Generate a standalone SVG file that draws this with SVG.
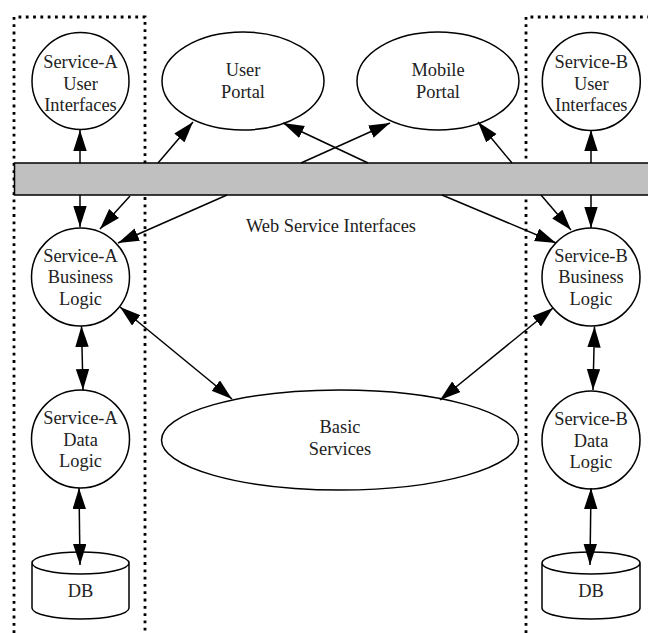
<svg xmlns="http://www.w3.org/2000/svg" width="648" height="633" viewBox="0 0 648 633">
<style>
.n{fill:#fff;stroke:#000;stroke-width:1.5}
.t{font-family:"Liberation Serif","Times New Roman",serif;font-size:18.4px;fill:#222;text-anchor:middle}
.c{stroke:#000;stroke-width:1.5;fill:none}
.d{fill:none;stroke:#000;stroke-width:2.8;stroke-dasharray:2.8 4.5}
</style>
<defs>
<marker id="ah" markerUnits="userSpaceOnUse" markerWidth="22" markerHeight="14" refX="21" refY="6.7" orient="auto-start-reverse"><path d="M0,0 L21,6.7 L0,13.4 z" fill="#000"/></marker>
</defs>
<g id="groupA"><path class="d" d="M14,633 V17 H145 V633"/></g>
<g id="groupB"><path class="d" d="M526,633 V17 H660"/></g>
<g id="bar"><rect x="14.5" y="163" width="640" height="32" fill="#c0c0c0" stroke="#000" stroke-width="1.5"/></g>
<g id="wsi"><text class="t" x="331" y="232">Web Service Interfaces</text></g>
<g id="uiA"><circle class="n" cx="80.5" cy="81" r="48.5"/><text class="t" x="80.5" y="68">Service-A</text><text class="t" x="80.5" y="89.5">User</text><text class="t" x="80.5" y="111">Interfaces</text></g>
<g id="userPortal"><ellipse class="n" cx="243" cy="81" rx="81" ry="49"/><text class="t" x="243" y="76">User</text><text class="t" x="243" y="97.5">Portal</text></g>
<g id="mobilePortal"><ellipse class="n" cx="438" cy="81" rx="81" ry="49"/><text class="t" x="438" y="76">Mobile</text><text class="t" x="438" y="97.5">Portal</text></g>
<g id="uiB"><circle class="n" cx="591.3" cy="81.5" r="49"/><text class="t" x="591.3" y="68">Service-B</text><text class="t" x="591.3" y="89.5">User</text><text class="t" x="591.3" y="111">Interfaces</text></g>
<g id="blA"><circle class="n" cx="80.5" cy="277" r="49"/><text class="t" x="80.5" y="261.5">Service-A</text><text class="t" x="80.5" y="283">Business</text><text class="t" x="80.5" y="304.5">Logic</text></g>
<g id="blB"><circle class="n" cx="591" cy="277" r="49"/><text class="t" x="591" y="261.5">Service-B</text><text class="t" x="591" y="283">Business</text><text class="t" x="591" y="304.5">Logic</text></g>
<g id="basic"><ellipse class="n" cx="340" cy="440" rx="178.5" ry="50"/><text class="t" x="340" y="433">Basic</text><text class="t" x="340" y="455">Services</text></g>
<g id="dlA"><circle class="n" cx="80.5" cy="439" r="49"/><text class="t" x="80.5" y="424">Service-A</text><text class="t" x="80.5" y="445.5">Data</text><text class="t" x="80.5" y="467">Logic</text></g>
<g id="dlB"><circle class="n" cx="591" cy="440" r="49"/><text class="t" x="591" y="425">Service-B</text><text class="t" x="591" y="446.5">Data</text><text class="t" x="591" y="468">Logic</text></g>
<g id="dbA"><path class="n" d="M32,563 V608 A48.5,11 0 0 0 129,608 V563 A48.5,11 0 0 0 32,563 A48.5,11 0 0 0 129,563"/><text class="t" x="80.5" y="597">DB</text></g>
<g id="dbB"><path class="n" d="M542,563 V608 A49,11 0 0 0 640,608 V563 A49,11 0 0 0 542,563 A49,11 0 0 0 640,563"/><text class="t" x="591" y="597">DB</text></g>
<g id="connectors">
<line class="c" x1="80" y1="163" x2="80" y2="130" marker-end="url(#ah)"/>
<line class="c" x1="80" y1="195" x2="80" y2="227" marker-end="url(#ah)"/>
<line class="c" x1="158" y1="163" x2="193" y2="122" marker-end="url(#ah)"/>
<line class="c" x1="130" y1="196" x2="100" y2="229" marker-end="url(#ah)"/>
<line class="c" x1="227" y1="195" x2="118" y2="243" marker-end="url(#ah)"/>
<line class="c" x1="301" y1="163" x2="390" y2="123" marker-end="url(#ah)"/>
<line class="c" x1="368" y1="163" x2="283" y2="123" marker-end="url(#ah)"/>
<line class="c" x1="512" y1="163" x2="478" y2="122" marker-end="url(#ah)"/>
<line class="c" x1="442" y1="195" x2="556" y2="243" marker-end="url(#ah)"/>
<line class="c" x1="541" y1="195" x2="571" y2="230" marker-end="url(#ah)"/>
<line class="c" x1="591" y1="163" x2="591" y2="130" marker-end="url(#ah)"/>
<line class="c" x1="591" y1="195" x2="591" y2="228" marker-end="url(#ah)"/>
<line class="c" x1="81.5" y1="326" x2="83" y2="390" marker-start="url(#ah)" marker-end="url(#ah)"/>
<line class="c" x1="79" y1="488" x2="80" y2="565" marker-start="url(#ah)" marker-end="url(#ah)"/>
<line class="c" x1="120" y1="307" x2="232" y2="399" marker-start="url(#ah)" marker-end="url(#ah)"/>
<line class="c" x1="553" y1="308" x2="440" y2="400" marker-start="url(#ah)" marker-end="url(#ah)"/>
<line class="c" x1="594.5" y1="326.5" x2="593" y2="390" marker-start="url(#ah)" marker-end="url(#ah)"/>
<line class="c" x1="591" y1="488" x2="590" y2="565" marker-start="url(#ah)" marker-end="url(#ah)"/>
</g>
</svg>
